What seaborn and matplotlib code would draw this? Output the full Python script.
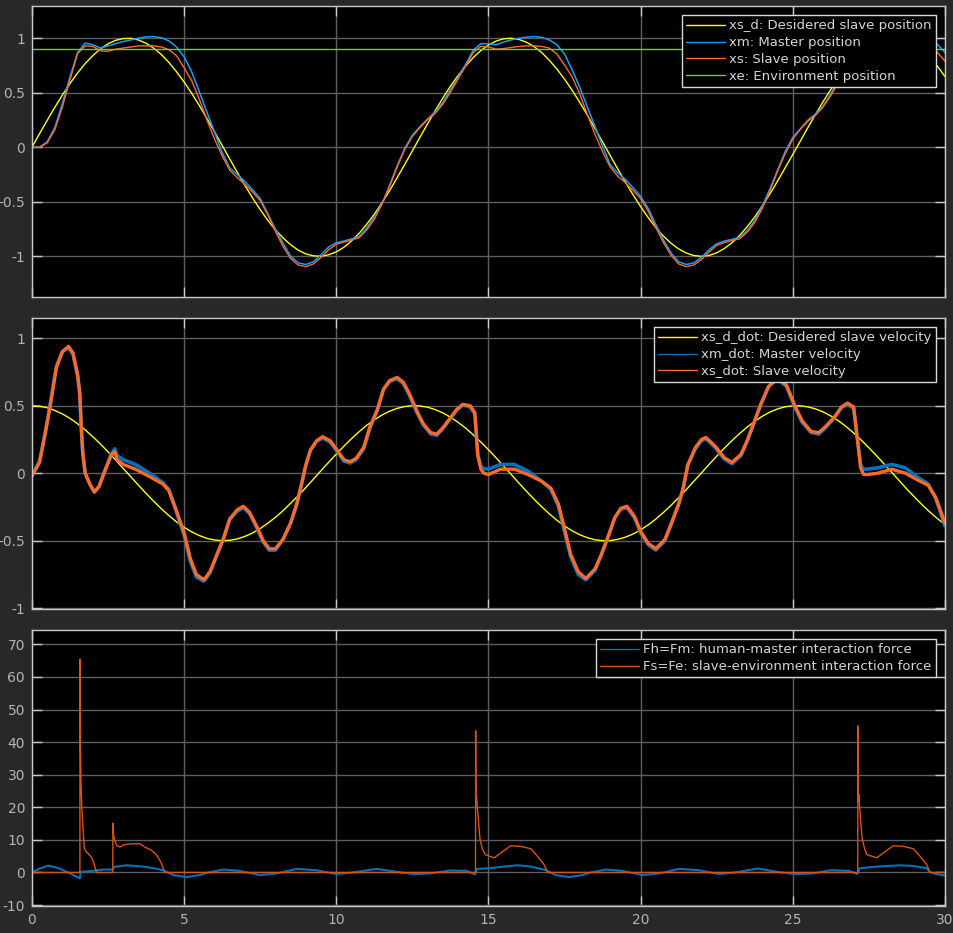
import numpy as np
import matplotlib.pyplot as plt
import seaborn as sns

# ---------------------------------------------------------------------------
# Data
# ---------------------------------------------------------------------------
# positions, sampled every 0.25 s
t_pos = np.arange(0, 30.001, 0.25)
xs_d = [0.0, 0.125, 0.247, 0.366, 0.479, 0.585, 0.682, 0.768,
        0.841, 0.902, 0.949, 0.981, 0.997, 0.999, 0.984, 0.954,
        0.909, 0.851, 0.778, 0.693, 0.598, 0.494, 0.382, 0.264,
        0.141, 0.017, -0.108, -0.231, -0.351, -0.465, -0.572, -0.670,
        -0.757, -0.831, -0.894, -0.944, -0.978, -0.996, -0.999, -0.986,
        -0.959, -0.917, -0.859, -0.790, -0.706, -0.614, -0.510, -0.399,
        -0.279, -0.157, -0.033, 0.092, 0.215, 0.336, 0.451, 0.560,
        0.657, 0.745, 0.823, 0.887, 0.938, 0.974, 0.995, 1.000,
        0.989, 0.964, 0.923, 0.869, 0.798, 0.717, 0.625, 0.523,
        0.412, 0.295, 0.173, 0.049, -0.075, -0.199, -0.319, -0.435,
        -0.544, -0.645, -0.736, -0.815, -0.880, -0.932, -0.970, -0.993,
        -1.000, -0.992, -0.968, -0.929, -0.876, -0.810, -0.730, -0.639,
        -0.537, -0.427, -0.310, -0.188, -0.066, 0.058, 0.182, 0.303,
        0.420, 0.530, 0.632, 0.724, 0.804, 0.872, 0.926, 0.966,
        0.991, 1.000, 0.993, 0.970, 0.935, 0.884, 0.820, 0.744,
        0.650]
xm = [0.0, 0.0, 0.05, 0.18, 0.40, 0.645, 0.87, 0.955,
      0.94, 0.91, 0.93, 0.95, 0.97, 0.985, 1.0, 1.013,
      1.015, 1.005, 0.975, 0.92, 0.83, 0.69, 0.51, 0.32,
      0.14, -0.05, -0.19, -0.25, -0.315, -0.39, -0.47, -0.61,
      -0.75, -0.88, -1.0, -1.06, -1.075, -1.05, -0.985, -0.915,
      -0.875, -0.86, -0.84, -0.82, -0.74, -0.64, -0.52, -0.35,
      -0.17, -0.01, 0.11, 0.19, 0.26, 0.325, 0.41, 0.53,
      0.64, 0.76, 0.89, 0.95, 0.95, 0.94, 0.965, 0.985,
      1.0, 1.01, 1.015, 1.008, 0.985, 0.94, 0.855, 0.71,
      0.55, 0.37, 0.19, 0.01, -0.16, -0.235, -0.295, -0.37,
      -0.45, -0.56, -0.71, -0.85, -0.97, -1.05, -1.075, -1.06,
      -1.01, -0.94, -0.885, -0.86, -0.845, -0.825, -0.765, -0.67,
      -0.54, -0.38, -0.21, -0.04, 0.09, 0.17, 0.25, 0.305,
      0.38, 0.49, 0.61, 0.73, 0.855, 0.935, 0.95, 0.94,
      0.96, 0.98, 1.0, 1.01, 1.015, 1.01, 0.99, 0.945,
      0.87]
xs = [0.0, 0.0, 0.04, 0.16, 0.37, 0.62, 0.86, 0.93,
      0.925, 0.885, 0.88, 0.9, 0.91, 0.92, 0.93, 0.93,
      0.93, 0.92, 0.895, 0.84, 0.73, 0.61, 0.44, 0.25,
      0.075, -0.08, -0.21, -0.28, -0.34, -0.41, -0.49, -0.62,
      -0.77, -0.91, -1.02, -1.08, -1.095, -1.07, -1.01, -0.94,
      -0.89, -0.87, -0.85, -0.83, -0.76, -0.66, -0.52, -0.36,
      -0.18, -0.02, 0.1, 0.18, 0.255, 0.31, 0.395, 0.505,
      0.625, 0.745, 0.87, 0.925, 0.92, 0.9, 0.905, 0.915,
      0.925, 0.93, 0.93, 0.925, 0.91, 0.855, 0.755, 0.645,
      0.49, 0.3, 0.12, -0.04, -0.18, -0.265, -0.325, -0.395,
      -0.47, -0.585, -0.735, -0.875, -0.99, -1.07, -1.095, -1.08,
      -1.03, -0.96, -0.9, -0.875, -0.855, -0.84, -0.78, -0.69,
      -0.56, -0.4, -0.22, -0.06, 0.075, 0.165, 0.24, 0.295,
      0.37, 0.475, 0.595, 0.715, 0.84, 0.915, 0.925, 0.905,
      0.9, 0.91, 0.92, 0.93, 0.93, 0.925, 0.91, 0.87,
      0.79]
t_xe = [0, 30]
xe = [0.9, 0.9]

# desired slave velocity, same 0.25 s samples
xs_d_dot = [0.5, 0.496, 0.485, 0.465, 0.439, 0.406, 0.366, 0.321,
            0.270, 0.216, 0.158, 0.098, 0.035, -0.027, -0.089, -0.150,
            -0.208, -0.263, -0.314, -0.361, -0.401, -0.435, -0.462, -0.483,
            -0.495, -0.5, -0.497, -0.487, -0.468, -0.443, -0.410, -0.371,
            -0.327, -0.278, -0.223, -0.166, -0.106, -0.044, 0.019, 0.081,
            0.142, 0.200, 0.256, 0.307, 0.355, 0.395, 0.431, 0.459,
            0.480, 0.494, 0.5, 0.498, 0.489, 0.471, 0.447, 0.415,
            0.377, 0.334, 0.284, 0.231, 0.174, 0.114, 0.052, -0.010,
            -0.073, -0.134, -0.193, -0.249, -0.301, -0.349, -0.391, -0.427,
            -0.456, -0.478, -0.493, -0.5, -0.499, -0.490, -0.474, -0.451,
            -0.420, -0.383, -0.340, -0.291, -0.238, -0.181, -0.122, -0.060,
            0.002, 0.065, 0.126, 0.185, 0.241, 0.293, 0.341, 0.384,
            0.422, 0.453, 0.476, 0.492, 0.499, 0.499, 0.491, 0.476,
            0.454, 0.424, 0.388, 0.346, 0.298, 0.245, 0.189, 0.130,
            0.069, 0.007, -0.056, -0.118, -0.177, -0.234, -0.287, -0.336,
            -0.380]

# master / slave velocity (irregular samples around the sharp edges)
t_vel = [0, 0.25, 0.45, 0.6, 0.8, 1.0, 1.2, 1.35, 1.5, 1.57,
         1.62, 1.67, 1.75, 1.9, 2.05, 2.2, 2.4, 2.6, 2.72, 2.8,
         3.0, 3.4, 3.9, 4.3, 4.5, 4.75, 5.0, 5.2, 5.4, 5.65,
         5.85, 6.05, 6.3, 6.5, 6.75, 6.95, 7.15, 7.4, 7.6, 7.8,
         8.0, 8.25, 8.5, 8.7, 8.85, 9.0, 9.15, 9.35, 9.55, 9.8,
         10.0, 10.25, 10.45, 10.65, 10.9, 11.1, 11.35, 11.55, 11.75, 12.0,
         12.2, 12.4, 12.65, 12.85, 13.1, 13.3, 13.5, 13.75, 13.95, 14.15,
         14.4, 14.55, 14.6, 14.65, 14.75, 14.85, 15.0, 15.4, 15.85, 16.3,
         16.75, 17.05, 17.3, 17.5, 17.7, 17.95, 18.2, 18.5, 18.7, 18.95,
         19.15, 19.35, 19.55, 19.8, 20.0, 20.25, 20.5, 20.8, 21.0, 21.25,
         21.4, 21.55, 21.8, 22.0, 22.15, 22.45, 22.75, 23.0, 23.3, 23.5,
         23.75, 23.95, 24.2, 24.5, 24.8, 25.05, 25.3, 25.6, 25.85, 26.05,
         26.35, 26.6, 26.8, 27.0, 27.1, 27.17, 27.23, 27.33, 27.45, 27.8,
         28.25, 28.7, 29.1, 29.45, 29.7, 30.0]
xm_dot = [-0.02, 0.09, 0.32, 0.51, 0.79, 0.9, 0.93, 0.88, 0.72, 0.58,
          0.33, 0.14, 0.0, -0.08, -0.14, -0.1, 0.02, 0.14, 0.18, 0.13,
          0.1, 0.065, -0.005, -0.07, -0.12, -0.29, -0.46, -0.65, -0.77, -0.8,
          -0.74, -0.62, -0.48, -0.34, -0.28, -0.255, -0.3, -0.41, -0.51, -0.57,
          -0.57, -0.49, -0.37, -0.23, -0.09, 0.06, 0.17, 0.235, 0.26, 0.23,
          0.17, 0.09, 0.075, 0.1, 0.18, 0.33, 0.47, 0.62, 0.68, 0.7,
          0.665, 0.58, 0.45, 0.36, 0.29, 0.28, 0.33, 0.405, 0.465, 0.505,
          0.49, 0.44, 0.3, 0.14, 0.05, 0.035, 0.03, 0.065, 0.065, 0.015,
          -0.06, -0.12, -0.245, -0.43, -0.62, -0.75, -0.79, -0.72, -0.61, -0.46,
          -0.33, -0.265, -0.255, -0.33, -0.44, -0.53, -0.57, -0.5, -0.38, -0.23,
          -0.11, 0.06, 0.18, 0.24, 0.255, 0.19, 0.105, 0.07, 0.13, 0.235,
          0.385, 0.51, 0.64, 0.7, 0.64, 0.5, 0.38, 0.3, 0.29, 0.33,
          0.405, 0.485, 0.51, 0.48, 0.3, 0.17, 0.06, 0.03, 0.03, 0.04,
          0.065, 0.04, -0.03, -0.08, -0.19, -0.39]
xs_dot = [-0.02, 0.08, 0.31, 0.5, 0.78, 0.9, 0.94, 0.89, 0.73, 0.6,
          0.35, 0.15, 0.0, -0.08, -0.14, -0.1, 0.02, 0.13, 0.16, 0.1,
          0.065, 0.03, -0.03, -0.08, -0.13, -0.28, -0.44, -0.63, -0.75, -0.79,
          -0.73, -0.62, -0.48, -0.34, -0.27, -0.245, -0.29, -0.4, -0.5, -0.56,
          -0.56, -0.49, -0.37, -0.23, -0.09, 0.06, 0.17, 0.24, 0.27, 0.24,
          0.18, 0.1, 0.085, 0.11, 0.19, 0.34, 0.47, 0.62, 0.685, 0.71,
          0.675, 0.59, 0.46, 0.37, 0.3, 0.29, 0.335, 0.41, 0.47, 0.51,
          0.5, 0.45, 0.3, 0.13, 0.03, 0.0, -0.01, 0.03, 0.03, -0.01,
          -0.06, -0.11, -0.23, -0.41, -0.6, -0.73, -0.78, -0.71, -0.61, -0.46,
          -0.33, -0.26, -0.245, -0.32, -0.43, -0.52, -0.56, -0.49, -0.38, -0.23,
          -0.11, 0.06, 0.19, 0.25, 0.265, 0.2, 0.115, 0.08, 0.14, 0.24,
          0.39, 0.51, 0.64, 0.71, 0.65, 0.51, 0.39, 0.31, 0.3, 0.34,
          0.41, 0.49, 0.52, 0.49, 0.3, 0.16, 0.04, -0.01, -0.01, 0.0,
          0.03, 0.0, -0.05, -0.09, -0.18, -0.37]

# interaction forces
t_fh = [0, 0.25, 0.54, 0.85, 1.19, 1.4, 1.57, 1.6, 1.9, 2.34,
        2.65, 2.7, 3.11, 3.77, 4.32, 4.64, 5.08, 5.52, 5.79, 6.29,
        6.83, 7.49, 8.04, 8.7, 9.35, 10.0, 10.45, 11.33, 11.98, 12.53,
        13.08, 13.73, 14.28, 14.56, 14.62, 15.0, 15.5, 15.95, 16.4, 16.9,
        17.21, 17.65, 18.09, 18.36, 18.86, 19.4, 20.06, 20.61, 21.27, 21.92,
        22.57, 23.02, 23.85, 24.55, 25.1, 25.65, 26.25, 26.85, 27.12, 27.2,
        27.76, 28.52, 28.96, 29.4, 29.5, 29.73, 30.0]
fh = [0, 1.2, 2.1, 1.4, 0, -1.0, -1.8, 0.2, 0.4, 0.9,
      0.9, 1.7, 2.2, 1.7, 0.7, -0.8, -1.4, -0.8, 0, 0.9,
      0.5, -0.8, -0.3, 1.1, 0.7, -0.5, -0.1, 1.1, 0.2, -0.5,
      -0.3, 0.6, 0.5, -0.6, 1.1, 1.3, 1.8, 2.2, 1.8, 0.7,
      -0.8, -1.4, -0.8, 0, 0.9, 0.5, -0.8, -0.3, 1.1, 0.7,
      -0.5, -0.1, 1.2, 0.1, -0.5, -0.3, 0.7, 0.5, -0.5, 1.3,
      1.8, 2.2, 2.0, 1.3, 0.2, -0.5, -1.0]
t_fs = [0, 1.575, 1.58, 1.595, 1.61, 1.64, 1.68, 1.72, 1.77, 1.85,
        1.96, 2.04, 2.12, 2.655, 2.66, 2.69, 2.78, 2.89, 3.0, 3.22,
        3.55, 3.71, 3.93, 4.1, 4.23, 4.37, 14.575, 14.58, 14.59, 14.61,
        14.67, 14.72, 14.8, 14.89, 15.03, 15.19, 15.41, 15.73, 16.06, 16.39,
        16.61, 16.83, 16.94, 27.135, 27.14, 27.15, 27.17, 27.23, 27.28, 27.36,
        27.43, 27.76, 27.98, 28.3, 28.63, 28.96, 29.18, 29.4, 29.51, 30.0]
fs = [0, 0, 65.5, 38, 28, 19.5, 13, 7.5, 6.5, 5.8,
      4.6, 2.7, 0, 0, 15.1, 10.9, 8.3, 7.8, 8.4, 8.8,
      8.8, 7.8, 6.8, 5.3, 3.3, 0, 0, 43.5, 21.5, 23,
      16, 10.4, 7.3, 5.6, 5.0, 4.5, 6.0, 8.2, 8.0, 7.3,
      5.0, 2.4, 0, 0, 45, 22, 24, 16, 10.4, 7.3,
      5.5, 4.5, 6.0, 8.2, 8.0, 7.3, 5.0, 2.4, 0, 0]

for name, a, b in [('xs_d', t_pos, xs_d), ('xm', t_pos, xm), ('xs', t_pos, xs),
                   ('xs_d_dot', t_pos, xs_d_dot), ('xm_dot', t_vel, xm_dot),
                   ('xs_dot', t_vel, xs_dot), ('fh', t_fh, fh), ('fs', t_fs, fs)]:
    if len(a) != len(b):
        raise ValueError('%s: %d times vs %d values' % (name, len(a), len(b)))

pos_ticks = [-1, -0.5, 0, 0.5, 1]
pos_labels = ['-1', '-0.5', '0', '0.5', '1']
force_ticks = [-10, 0, 10, 20, 30, 40, 50, 60, 70]
time_ticks = [0, 5, 10, 15, 20, 25, 30]

# ---------------------------------------------------------------------------
# Scope-like dark styling
# ---------------------------------------------------------------------------
bg = '#282828'
txt = '#b4b4b4'
sns.set_theme(style='dark', rc={
    'figure.facecolor': bg, 'axes.facecolor': 'black',
    'axes.edgecolor': '#c8c8c8', 'axes.linewidth': 1.0,
    'axes.grid': True, 'grid.color': '#5e5e5e', 'grid.linewidth': 1.0,
    'grid.linestyle': '-',
    'xtick.color': '#c8c8c8', 'ytick.color': '#c8c8c8',
    'xtick.labelcolor': txt, 'ytick.labelcolor': txt,
    'xtick.direction': 'in', 'ytick.direction': 'in',
    'xtick.major.size': 7, 'ytick.major.size': 7,
    'xtick.major.width': 1.0, 'ytick.major.width': 1.0,
    'xtick.bottom': True, 'xtick.top': True,
    'ytick.left': True, 'ytick.right': True,
})
plt.rcParams['font.family'] = ['DejaVu Sans']

YEL, BLU, ORA, GRN = '#FFFF11', '#139FFF', '#FF6929', '#64D413'
BLU2, ORA2 = '#0072BD', '#D95319'

fig = plt.figure(figsize=(9.54, 9.33), dpi=100, facecolor=bg)
ax1 = fig.add_axes([0.0335, 0.6817, 0.957, 0.3119])
ax2 = fig.add_axes([0.0335, 0.3473, 0.957, 0.3119])
ax3 = fig.add_axes([0.0335, 0.0289, 0.957, 0.2958])


def line(ax, t, v, color, label, lw):
    sns.lineplot(x=t, y=v, ax=ax, color=color, label=label, linewidth=lw,
                 estimator=None, sort=False)


# Positions
line(ax1, t_pos, xs_d, YEL, 'xs_d: Desidered slave position', 1.0)
line(ax1, t_pos, xm, BLU, 'xm: Master position', 1.1)
line(ax1, t_pos, xs, ORA, 'xs: Slave position', 1.0)
line(ax1, t_xe, xe, GRN, 'xe: Environment position', 1.0)
ax1.set_ylim(-1.373, 1.296)
ax1.set_yticks(pos_ticks)
ax1.set_yticklabels(pos_labels)

# Velocities
line(ax2, t_pos, xs_d_dot, YEL, 'xs_d_dot: Desidered slave velocity', 1.0)
line(ax2, t_vel, xm_dot, BLU2, 'xm_dot: Master velocity', 2.6)
line(ax2, t_vel, xs_dot, ORA, 'xs_dot: Slave velocity', 2.4)
ax2.set_ylim(-1.006, 1.15)
ax2.set_yticks(pos_ticks)
ax2.set_yticklabels(pos_labels)

# Forces
line(ax3, t_fh, fh, BLU2, 'Fh=Fm: human-master interaction force', 1.5)
line(ax3, t_fs, fs, ORA2, 'Fs=Fe: slave-environment interaction force', 1.0)
ax3.set_ylim(-10.3, 74.4)
ax3.set_yticks(force_ticks)
ax3.set_yticklabels([str(v) for v in force_ticks])

for ax in (ax1, ax2, ax3):
    ax.set_xlim(0, 30)
    ax.set_xticks(time_ticks)
    ax.set_xlabel('')
    ax.set_ylabel('')
    ax.set_axisbelow(True)
    ax.tick_params(labelsize=10, pad=5)
    for s in ax.spines.values():
        s.set_visible(True)
        s.set_color('#c8c8c8')
    leg = ax.legend(loc='upper right', fontsize=9.5, frameon=True,
                    facecolor='black', edgecolor='#d8d8d8', framealpha=1,
                    fancybox=False, labelcolor='#d4d4d4', handlelength=3.0,
                    handletextpad=0.3, labelspacing=0.3, borderpad=0.3,
                    borderaxespad=0.7)
    leg.get_frame().set_linewidth(1.0)
    for h in leg.get_lines():
        h.set_linewidth(1.0)

ax1.tick_params(labelbottom=False)
ax2.tick_params(labelbottom=False)
ax3.set_xticklabels([str(v) for v in time_ticks])

fig.savefig('out.png', dpi=100, facecolor=bg)
